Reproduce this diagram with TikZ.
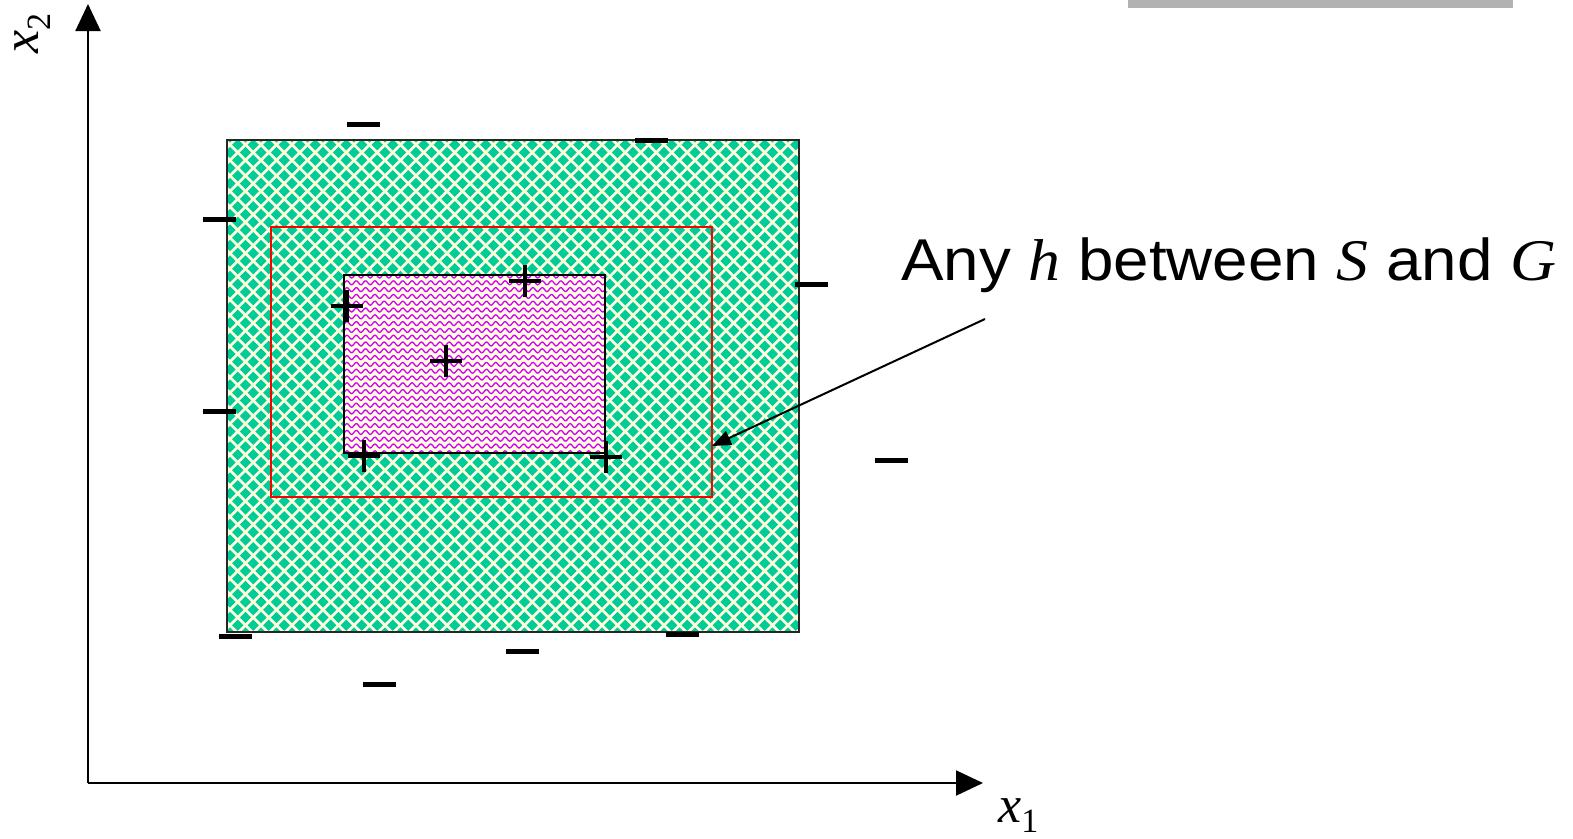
\documentclass[tikz,border=0pt]{standalone}
\usepackage{fontspec}
\setmainfont{Liberation Sans}
\newfontfamily\tms{Liberation Serif}
\usetikzlibrary{arrows.meta}
\definecolor{pgreen}{RGB}{0,204,153}
\definecolor{pcream}{RGB}{255,255,222}
\definecolor{pmag}{RGB}{210,0,255}
\definecolor{bargray}{RGB}{178,178,178}
\begin{document}
\begin{tikzpicture}[x=1pt,y=-1pt,
  minus/.style={fill=black,rectangle,minimum width=33pt,minimum height=5pt,inner sep=0pt,outer sep=0pt},
  plussign/.style={line width=3.5pt},
  axis/.style={line width=2pt,-{Triangle[length=27pt,width=25pt]}},
  border/.style={line width=2pt}]
\useasboundingbox (0,0) rectangle (1573,838);
% gray bar
\fill[bargray] (1128,0) rectangle (1513,8);
% axes
\coordinate (O) at (88,783);
\coordinate (ytop) at (88,4);
\coordinate (xend) at (983,783);
\draw[axis] (O) -- (ytop);
\draw[axis] (O) -- (xend);
\node[anchor=base west,inner sep=0pt,rotate=90,font=\tms\fontsize{52}{60}\selectfont] (x2) at (38,54) {\itshape x\raisebox{-12pt}{\upshape\fontsize{34}{34}\selectfont 2}};
\node[anchor=base west,inner sep=0pt,font=\tms\fontsize{52}{60}\selectfont] (x1) at (998,822) {\itshape x\raisebox{-10pt}{\upshape\fontsize{34}{34}\selectfont 1}};
% outer G region with diamond pattern
\begin{scope}
\clip (227,140) rectangle (799,632);
\fill[pcream] (227,140) rectangle (799,632);
\fill[pgreen] \foreach \i [evaluate=\i as \x using 214.5+\i*15.5] in {0,...,38} {
  \foreach \j [evaluate=\j as \y using 137+\j*15.5] in {0,...,32} {
   (\x-5.6,\y) -- (\x,\y-5.6) -- (\x+5.6,\y) -- (\x,\y+5.6) -- cycle
   (\x+2.15,\y+7.75) -- (\x+7.75,\y+2.15) -- (\x+13.35,\y+7.75) -- (\x+7.75,\y+13.35) -- cycle
  }};
\end{scope}
\node[draw=black!85,border,rectangle,minimum width=572pt,minimum height=492pt,inner sep=0pt] (G) at (513,386) {};
% red hypothesis
\node[draw=red,border,rectangle,minimum width=441pt,minimum height=270pt,inner sep=0pt] (H) at (491.5,362) {};
% inner S region with wave pattern
\begin{scope}
\clip (344,275) rectangle (605,453);
\fill[pcream] (344,275) rectangle (605,453);
\foreach \k in {0,...,27}
  \draw[pmag,line width=1.3pt] plot[domain=0:270,samples=240] ({\x+340},{276+\k*6.8+2*sin(\x*38.71)});
\end{scope}
\node[draw=black,border,rectangle,minimum width=261pt,minimum height=178pt,inner sep=0pt] (S) at (474.5,364) {};
% plus signs
\foreach \n/\px/\py in {p1/347/306,p2/525/281,p3/446/361,p4/364/456,p5/606/457}{
  \coordinate (\n) at (\px,\py);
  \draw[plussign] ([xshift=-16pt]\n) -- ([xshift=16pt]\n);
  \draw[plussign] ([yshift=-16pt]\n) -- ([yshift=16pt]\n);
}
% minus signs
\node[minus] (m1) at (363.5,124.5) {};
\node[minus] (m2) at (651.5,140.5) {};
\node[minus] (m3) at (219,219) {};
\node[minus] (m4) at (811,284.5) {};
\node[minus] (m5) at (219,411) {};
\node[minus] (m6) at (891,460.5) {};
\node[minus] (m7) at (235,636) {};
\node[minus] (m8) at (522,651) {};
\node[minus] (m9) at (682,634) {};
\node[minus] (m10) at (379.5,684.5) {};
% label and pointer
\node[anchor=base west,inner sep=0pt,xscale=1.08,font=\fontsize{59}{70}\selectfont] (lbl) at (901,280)
  {Any {\tms\itshape h} between {\tms\itshape S} and {\tms\itshape G}};
\coordinate (pstart) at (985,319);
\coordinate (ptip) at (712,446);
\draw[line width=2pt,-{Triangle[length=19pt,width=15pt]}] (pstart) -- (ptip);
\end{tikzpicture}
\end{document}
